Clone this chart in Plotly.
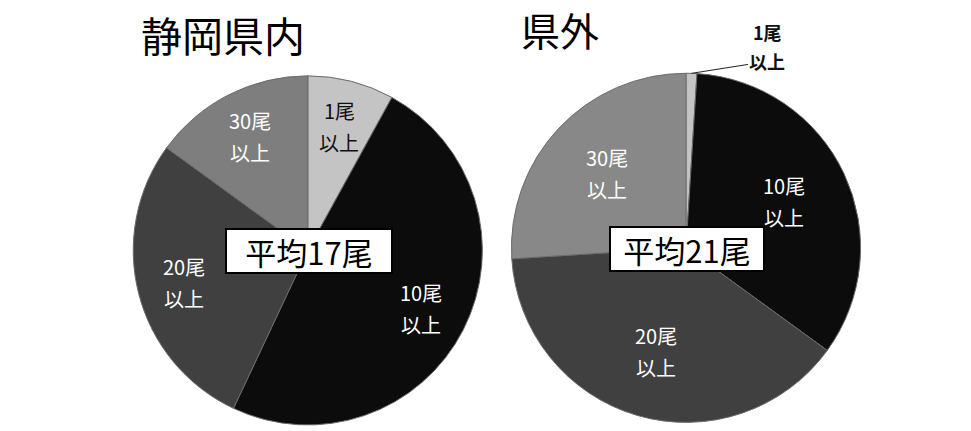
import math
import plotly.graph_objects as go

# 釣果の内訳（%）: 静岡県内 / 県外
categories = ["1尾以上", "10尾以上", "20尾以上", "30尾以上"]
label_top = ["1尾", "10尾", "20尾", "30尾"]
label_bottom = ["以上", "以上", "以上", "以上"]
shizuoka_pct = [8, 49, 28, 15]
kengai_pct = [1, 34, 39, 26]
titles = ["静岡県内", "県外"]
averages = ["平均17尾", "平均21尾"]

W, H = 971, 431
font_jp = "Noto Sans CJK JP"
txt_colors = ["#111111", "white", "white", "white"]
LINE_GAP = 16  # ラベル2行の間隔（px、半分）

# 各円グラフの設定
pies = [
    dict(values=shizuoka_pct, dom_x=[0.137, 0.497], dom_y=[0.014, 0.824],
         colors=["#c4c4c4", "#0c0c0c", "#404040", "#7e7e7e"],
         label_r=0.73, outside=[False, False, False, False],
         avg=averages[0], box_w=162),
    dict(values=kengai_pct, dom_x=[0.525, 0.888], dom_y=[0.02, 0.83],
         colors=["#c4c4c4", "#0c0c0c", "#404040", "#888888"],
         label_r=0.62, outside=[True, False, False, False],
         avg=averages[1], box_w=150),
]

fig = go.Figure()

for p in pies:
    fig.add_trace(go.Pie(
        labels=categories, values=p["values"],
        textinfo="none", sort=False, direction="clockwise", rotation=0,
        marker=dict(colors=p["colors"], line=dict(color="#6a6a6a", width=1)),
        domain=dict(x=p["dom_x"], y=p["dom_y"]),
        showlegend=False, hoverinfo="label+percent",
    ))

    # 円の中心と半径（paper座標）
    cx = sum(p["dom_x"]) / 2
    cy = sum(p["dom_y"]) / 2
    r_px = min((p["dom_x"][1] - p["dom_x"][0]) * W, (p["dom_y"][1] - p["dom_y"][0]) * H) / 2
    rx, ry = r_px / W, r_px / H

    # ラベル: 各スライスの二等分線上に配置
    total = sum(p["values"])
    cum = 0
    for i, v in enumerate(p["values"]):
        mid = math.radians((cum + v / 2) / total * 360)
        cum += v
        if p["outside"][i]:
            # 外側ラベル（引き出し線つき）
            ex, ey = cx + rx * math.sin(mid), cy + ry * math.cos(mid)
            fig.add_annotation(
                text="<b>" + label_bottom[i] + "</b>", x=ex, y=ey,
                xref="paper", yref="paper", showarrow=True,
                arrowhead=0, arrowwidth=1, arrowcolor="#222222",
                ax=76, ay=-12, standoff=0,
                font=dict(family=font_jp, size=18, color="#111111"))
            fig.add_annotation(
                text="<b>" + label_top[i] + "</b>", x=ex, y=ey,
                xref="paper", yref="paper", showarrow=False,
                xanchor="center", yanchor="middle",
                xshift=76, yshift=41,
                font=dict(family=font_jp, size=18, color="#111111"))
        else:
            lx = cx + p["label_r"] * rx * math.sin(mid)
            ly = cy + p["label_r"] * ry * math.cos(mid)
            for txt, dy in [(label_top[i], LINE_GAP), (label_bottom[i], -LINE_GAP)]:
                fig.add_annotation(
                    text=txt, x=lx, y=ly, yshift=dy,
                    xref="paper", yref="paper", showarrow=False,
                    xanchor="center", yanchor="middle",
                    font=dict(family=font_jp, size=20, color=txt_colors[i]))

    # 平均ラベル
    fig.add_annotation(text=p["avg"], x=cx + 0.001, y=cy - 0.002,
                       xref="paper", yref="paper",
                       xanchor="center", yanchor="middle", showarrow=False,
                       width=p["box_w"], height=40,
                       bgcolor="white", bordercolor="black",
                       borderwidth=2, borderpad=1,
                       font=dict(family=font_jp, size=31, color="black"))

# タイトル
fig.add_annotation(text=titles[0], x=0.143, y=0.921, xref="paper", yref="paper",
                   xanchor="left", yanchor="middle", showarrow=False,
                   font=dict(family=font_jp, size=41, color="black"))
fig.add_annotation(text=titles[1], x=0.535, y=0.933, xref="paper", yref="paper",
                   xanchor="left", yanchor="middle", showarrow=False,
                   font=dict(family=font_jp, size=39, color="black"))

fig.update_layout(
    width=W, height=H,
    margin=dict(l=0, r=0, t=0, b=0),
    paper_bgcolor="white", plot_bgcolor="white",
)

fig.write_html("out.html", config={"displayModeBar": False},
               post_script="document.body.style.margin='0px';")
